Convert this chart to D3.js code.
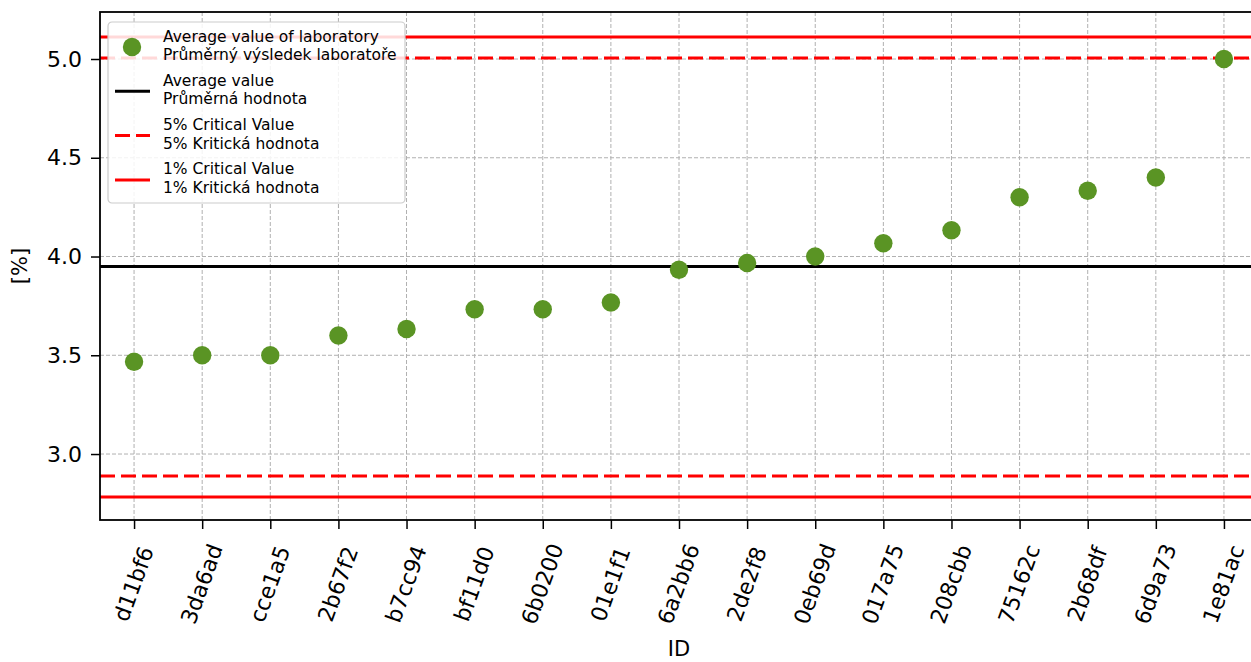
<!DOCTYPE html>
<html>
<head>
<meta charset="utf-8">
<script src="https://cdn.jsdelivr.net/npm/d3@7"></script>
<style>
body { margin: 0; background: #fff; overflow: hidden; }
text { font-family: "DejaVu Sans", sans-serif; }
</style>
</head>
<body>
<div id="chart"></div>
<script>
// data
var ids = ["d11bf6","3da6ad","cce1a5","2b67f2","b7cc94","bf11d0","6b0200","01e1f1","6a2bb6","2de2f8","0eb69d","017a75","208cbb","75162c","2b68df","6d9a73","1e81ac"];
var labMeans = [3.467,3.5,3.5,3.6,3.633,3.733,3.733,3.767,3.933,3.967,4.0,4.067,4.133,4.3,4.333,4.4,5.0];
var avgValue = 3.949;
var crit5 = [2.889, 5.005];
var crit1 = [2.783, 5.111];
var yTicks = [3.0, 3.5, 4.0, 4.5, 5.0];
var legendLabels = [
	["Average value of laboratory", "Průměrný výsledek laboratoře"],
	["Average value", "Průměrná hodnota"],
	["5% Critical Value", "5% Kritická hodnota"],
	["1% Critical Value", "1% Kritická hodnota"]
];

var W = 1251, H = 662;
var m = {left: 100, top: 12, bottom: 142};
var iw = 1158, ih = H - m.top - m.bottom; // plot runs past the right edge, like the original

var svg = d3.select("#chart").append("svg").attr("width", W).attr("height", H);
var g = svg.append("g").attr("transform", "translate(" + m.left + "," + m.top + ")");

var x = d3.scaleLinear().domain([-0.5, ids.length - 0.5]).range([0, iw]);
var y = d3.scaleLinear().domain([2.666, 5.238]).range([ih, 0]);

// grid
g.append("g").selectAll("line").data(yTicks).enter().append("line")
	.attr("x1", 0).attr("x2", iw)
	.attr("y1", function(d) { return y(d); }).attr("y2", function(d) { return y(d); })
	.style("stroke", "#b0b0b0").style("stroke-width", 1).style("stroke-dasharray", "4,2");
g.append("g").selectAll("line").data(ids).enter().append("line")
	.attr("x1", function(d, i) { return x(i); }).attr("x2", function(d, i) { return x(i); })
	.attr("y1", 0).attr("y2", ih)
	.style("stroke", "#b0b0b0").style("stroke-width", 1).style("stroke-dasharray", "4,2");

// reference lines
function hline(v, col, dash) {
	g.append("line").attr("x1", 0).attr("x2", iw).attr("y1", y(v)).attr("y2", y(v))
		.style("stroke", col).style("stroke-width", 3).style("stroke-dasharray", dash);
}
crit1.forEach(function(v) { hline(v, "#ff0000", null); });
crit5.forEach(function(v) { hline(v, "#ff0000", "15,6"); });
hline(avgValue, "#000", null);

// points
g.append("g").selectAll("circle").data(labMeans).enter().append("circle")
	.attr("cx", function(d, i) { return x(i); })
	.attr("cy", function(d) { return y(d); })
	.attr("r", 9.2)
	.style("fill", "#5a9424");

// axes
var xAxis = g.append("g").attr("transform", "translate(0," + ih + ")")
	.call(d3.axisBottom(x).tickValues(d3.range(ids.length)).tickFormat(function(i) { return ids[i]; }).tickSize(9));
xAxis.selectAll("text")
	.style("font-size", "22px").style("fill", "#000")
	.attr("x", 0).attr("y", 0).attr("dy", "0.35em")
	.attr("text-anchor", "middle")
	.attr("transform", "translate(-1,64) rotate(-70)");

var yAxis = g.append("g")
	.call(d3.axisLeft(y).tickValues(yTicks).tickFormat(d3.format(".1f")).tickSize(9).tickPadding(9));
yAxis.selectAll("text").style("font-size", "22px").style("fill", "#000");

[xAxis, yAxis].forEach(function(a) {
	a.select(".domain").remove();
	a.selectAll(".tick line").style("stroke", "#000").style("stroke-width", 1.5);
});

g.append("rect").attr("width", iw).attr("height", ih)
	.style("fill", "none").style("stroke", "#000").style("stroke-width", 1.8);

// axis titles
g.append("text").attr("x", 579).attr("y", ih + 136).attr("text-anchor", "middle")
	.style("font-size", "21px").text("ID");
g.append("text").attr("transform", "translate(-73," + (ih / 2) + ") rotate(-90)")
	.attr("text-anchor", "middle").style("font-size", "21px").text("[%]");

// legend
var lg = svg.append("g").attr("transform", "translate(108,22)");
lg.append("rect").attr("width", 297).attr("height", 181).attr("rx", 4)
	.style("fill", "#fff").style("fill-opacity", 0.85).style("stroke", "#cccccc").style("stroke-width", 1.2);

legendLabels.forEach(function(lab, i) {
	var cy = 25 + i * 44.3;
	if (i == 0) {
		lg.append("circle").attr("cx", 24).attr("cy", cy).attr("r", 9.2).style("fill", "#5a9424");
	} else {
		var col = i == 1 ? "#000" : "#ff0000";
		lg.append("line").attr("x1", 7).attr("x2", 42).attr("y1", cy).attr("y2", cy)
			.style("stroke", col).style("stroke-width", 3)
			.style("stroke-dasharray", i == 2 ? "15,6" : null);
	}
	var t = lg.append("text").attr("x", 55).attr("y", cy - 5.5).style("font-size", "15.5px");
	t.append("tspan").attr("x", 55).text(lab[0]);
	t.append("tspan").attr("x", 55).attr("dy", 18.5).text(lab[1]);
});
</script>
</body>
</html>
